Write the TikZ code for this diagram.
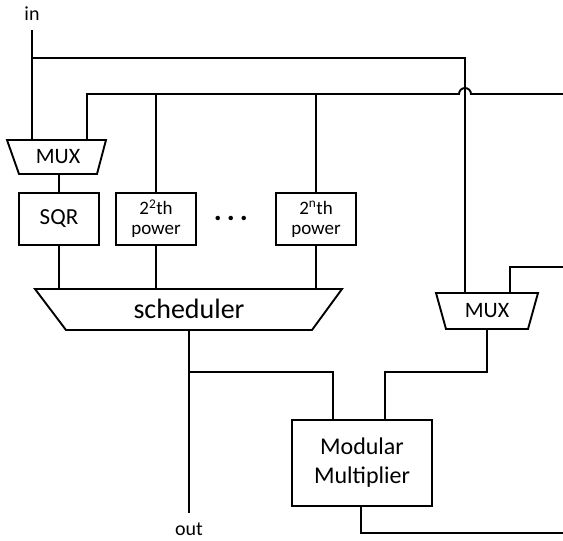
\documentclass[tikz,border=0pt]{standalone}
\usepackage{fontspec}
\setmainfont{Carlito}
\begin{document}
\begin{tikzpicture}[x=1pt,y=-1pt,
  wire/.style={line width=1.9pt, line join=miter},
  boxn/.style={draw, line width=1.9pt, inner sep=0pt, align=center},
  lbl/.style={inner sep=0pt, align=center}]
\useasboundingbox (0,0) rectangle (563,541);

% labels
\node[lbl, font=\fontsize{20}{22}\selectfont] (in) at (32,14) {in};
\node[lbl, font=\fontsize{20}{22}\selectfont] (out) at (189,529) {out};

% MUX 1
\draw[wire] (7,140) -- (106,140) -- (97,174) -- (19,174) -- cycle;
\node[lbl, font=\fontsize{22}{26}\selectfont] (mux1) at (58,157) {MUX};
\coordinate (m1a) at (32,140);
\coordinate (m1b) at (87,140);
\coordinate (m1o) at (59,174);

% boxes
\node[boxn, minimum width=80pt, minimum height=52pt, font=\fontsize{23}{27}\selectfont] (sqr) at (59,219) {SQR};
\node[boxn, minimum width=80pt, minimum height=52pt, font=\fontsize{19}{20}\selectfont] (p2) at (156,219) {2\textsuperscript{2}th\\power};
\node[boxn, minimum width=80pt, minimum height=52pt, font=\fontsize{19}{20}\selectfont] (pn) at (316,219) {2\textsuperscript{n}th\\power};
\node[lbl, font=\fontsize{30}{30}\selectfont\bfseries] (dots) at (231,218) {.\hspace{5pt}.\hspace{5pt}.};

% scheduler
\draw[wire] (35,289) -- (342,289) -- (312,330) -- (66,330) -- cycle;
\node[lbl, font=\fontsize{28}{32}\selectfont] (sch) at (189,309) {scheduler};
\coordinate (s1) at (59,289);
\coordinate (s2) at (156,289);
\coordinate (s3) at (316,289);
\coordinate (so) at (189,330);

% MUX 2
\draw[wire] (436,293) -- (538,293) -- (528,329) -- (446,329) -- cycle;
\node[lbl, font=\fontsize{22}{26}\selectfont] (mux2) at (487,311) {MUX};
\coordinate (m2a) at (465,293);
\coordinate (m2b) at (510,293);
\coordinate (m2o) at (487,329);

% multiplier
\node[boxn, minimum width=140pt, minimum height=86pt, font=\fontsize{24}{29}\selectfont] (mult) at (362,463) {Modular\\Multiplier};
\coordinate (mma) at (333,420);
\coordinate (mmb) at (385,420);
\coordinate (mmo) at (361,506);

% wires
\draw[wire] (32,30) -- (m1a);
\draw[wire] (32,58) -| (m2a);
\draw[wire] (m1b) |- (459,94) arc[start angle=180, end angle=0, radius=6pt] -- (563,94);
\draw[wire] (156,94) -- (p2.north);
\draw[wire] (316,94) -- (pn.north);
\draw[wire] (m1o) -- (sqr.north);
\draw[wire] (sqr.south) -- (s1);
\draw[wire] (p2.south) -- (s2);
\draw[wire] (pn.south) -- (s3);
\draw[wire] (so) -- (189,513);
\draw[wire] (189,372) -| (mma);
\draw[wire] (m2o) |- (385,372) -- (mmb);
\draw[wire] (563,267) -| (m2b);
\draw[wire] (mmo) |- (563,533);
\end{tikzpicture}
\end{document}
